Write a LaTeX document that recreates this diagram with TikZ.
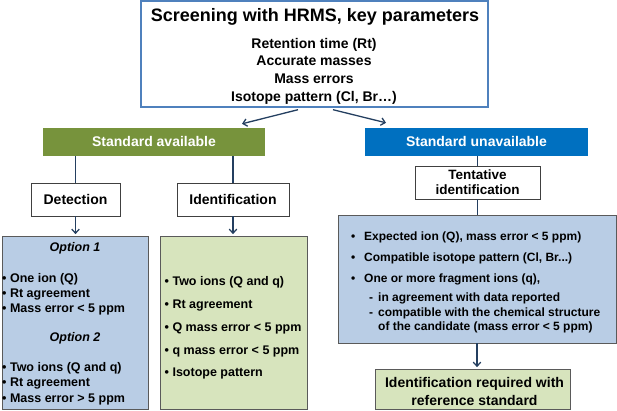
\documentclass[tikz,border=0pt]{standalone}
\usepackage{fontspec}
\setmainfont{Liberation Sans}
\usetikzlibrary{arrows.meta}
\definecolor{cOlive}{HTML}{77933C}
\definecolor{cBlue}{HTML}{0070C0}
\definecolor{cLightBlue}{HTML}{B9CDE5}
\definecolor{cLightGreen}{HTML}{D7E4BD}
\definecolor{cTopBorder}{HTML}{4F81BD}
\definecolor{cLine}{HTML}{243F60}
\definecolor{cGreyBorder}{HTML}{5A5A5A}
\newcommand{\fsz}[1]{\fontsize{#1}{#1}\selectfont\bfseries}
\begin{document}
\begin{tikzpicture}[x=1pt,y=-1pt,
  box/.style={rectangle, inner sep=0pt},
  topbox/.style={box, draw=cTopBorder, line width=1.4pt, fill=white},
  headbox/.style={box, text=white, font=\fsz{14}},
  smallbox/.style={box, draw=black!75, line width=0.8pt, fill=white, font=\fsz{14}},
  listbox/.style={box, draw=cGreyBorder, line width=0.8pt},
  txt/.style={inner sep=0pt, text=black},
  conn/.style={draw=cLine, line width=1.3pt},
  arr/.style={conn, -{Straight Barb[length=4pt,width=7.5pt]}}
]
\useasboundingbox (0,0) rectangle (617,410);

% top box
\node[topbox, minimum width=347pt, minimum height=106pt] (top) at (314.5,54) {};
\node[txt, anchor=base, font=\fsz{18}] (title) at (315,21.6) {Screening with HRMS, key parameters};
\node[txt, anchor=base, font=\fsz{14}] (p1) at (314,48.2) {Retention time (Rt)};
\node[txt, anchor=base, font=\fsz{14}] (p2) at (314,65.9) {Accurate masses};
\node[txt, anchor=base, font=\fsz{14}] (p3) at (314,83.6) {Mass errors};
\node[txt, anchor=base, font=\fsz{14}] (p4) at (314,101.3) {Isotope pattern (Cl, Br…)};

% header boxes
\node[headbox, fill=cOlive, minimum width=222pt, minimum height=28pt] (stdav) at (154,142) {};
\node[txt, anchor=base, text=white, font=\fsz{14}] (stdavt) at (154,146.4) {Standard available};
\node[headbox, fill=cBlue, minimum width=223pt, minimum height=28pt] (stdun) at (476.5,142) {};
\node[txt, anchor=base, text=white, font=\fsz{14}] (stdunt) at (476.5,146.4) {Standard unavailable};

\draw[arr] ([xshift=-16.5pt,yshift=-2pt]top.south) -- ([xshift=88pt,yshift=4pt]stdav.north);
\draw[arr] ([xshift=18.5pt,yshift=-2pt]top.south) -- ([xshift=-90.5pt,yshift=5pt]stdun.north);

% detection / identification
\node[smallbox, minimum width=89pt, minimum height=33pt] (detect) at (75.5,199.5) {};
\node[txt, anchor=base, font=\fsz{14}] (detectt) at (75.5,204) {Detection};
\node[smallbox, minimum width=112pt, minimum height=33pt] (ident) at (233,199.5) {};
\node[txt, anchor=base, font=\fsz{14}] (identt) at (233,204) {Identification};

\draw[conn] (detect.north |- stdav.south) -- (detect.north);
\draw[conn] (ident.north |- stdav.south) -- (ident.north);

% list boxes
\node[listbox, fill=cLightBlue, minimum width=146pt, minimum height=173pt] (detlist) at (75,322.5) {};
\node[listbox, fill=cLightGreen, minimum width=147pt, minimum height=173pt] (idlist) at (233.5,322.5) {};

\draw[arr] (detect.south) -- ([yshift=1.5pt]detect.south |- detlist.north);
\draw[arr] (ident.south) -- ([yshift=1.5pt]ident.south |- idlist.north);

\node[txt, anchor=base, font=\fsz{12.5}\itshape] (opt1) at (75,251) {Option 1};
\node[txt, anchor=base west, font=\fsz{12.5}] (d1) at (2,282.6) {\textbullet\ One ion (Q)};
\node[txt, anchor=base west, font=\fsz{12.5}] (d2) at (2,297.4) {\textbullet\ Rt agreement};
\node[txt, anchor=base west, font=\fsz{12.5}] (d3) at (2,312.4) {\textbullet\ Mass error < 5 ppm};
\node[txt, anchor=base, font=\fsz{12.5}\itshape] (opt2) at (75,341.8) {Option 2};
\node[txt, anchor=base west, font=\fsz{12.5}] (d4) at (2,371.8) {\textbullet\ Two ions (Q and q)};
\node[txt, anchor=base west, font=\fsz{12.5}] (d5) at (2,386.8) {\textbullet\ Rt agreement};
\node[txt, anchor=base west, font=\fsz{12.5}] (d6) at (2,402.6) {\textbullet\ Mass error > 5 ppm};

\node[txt, anchor=base west, font=\fsz{12.5}] (i1) at (164.5,285.8) {\textbullet\ Two ions (Q and q)};
\node[txt, anchor=base west, font=\fsz{12.5}] (i2) at (164.5,308.6) {\textbullet\ Rt agreement};
\node[txt, anchor=base west, font=\fsz{12.5}] (i3) at (164.5,331.4) {\textbullet\ Q mass error < 5 ppm};
\node[txt, anchor=base west, font=\fsz{12.5}] (i4) at (164.5,354.2) {\textbullet\ q mass error < 5 ppm};
\node[txt, anchor=base west, font=\fsz{12.5}] (i5) at (164.5,376.8) {\textbullet\ Isotope pattern};

% right branch
\node[smallbox, minimum width=125pt, minimum height=33pt] (tent) at (477.5,182.5) {};
\node[txt, anchor=base, font=\fsz{13.5}] (tent1) at (477.5,179.3) {Tentative};
\node[txt, anchor=base, font=\fsz{13.5}] (tent2) at (477.5,194.6) {identification};
\draw[conn] (tent.north |- stdun.south) -- (tent.north);

\node[listbox, fill=cLightBlue, minimum width=278pt, minimum height=128pt] (big) at (477,279) {};
\draw[conn] (tent.south) -- (tent.south |- big.north);

\node[txt, anchor=base west, font=\fsz{12}] (b1) at (351,240.8) {\makebox[13pt][l]{\textbullet}Expected ion (Q), mass error < 5 ppm)};
\node[txt, anchor=base west, font=\fsz{12}] (b2) at (351,261.8) {\makebox[13pt][l]{\textbullet}Compatible isotope pattern (Cl, Br...)};
\node[txt, anchor=base west, font=\fsz{12}] (b3) at (351,282.8) {\makebox[13pt][l]{\textbullet}One or more fragment ions (q),};
\node[txt, anchor=base west, font=\fsz{12}] (b4) at (369,301.8) {\makebox[9pt][l]{-}in agreement with data reported};
\node[txt, anchor=base west, font=\fsz{12}] (b5) at (369,316.6) {\makebox[9pt][l]{-}compatible with the chemical structure};
\node[txt, anchor=base west, font=\fsz{12}] (b6) at (378,330.8) {of the candidate (mass error < 5 ppm)};

\node[box, draw=cGreyBorder, line width=0.8pt, fill=cLightGreen, minimum width=195pt, minimum height=40pt] (final) at (472.5,389) {};
\node[txt, anchor=base, font=\fsz{14}] (f1) at (474.5,387.4) {Identification required with};
\node[txt, anchor=base, font=\fsz{14}] (f2) at (474.5,405.2) {reference standard};
\draw[arr] (big.south) -- ([yshift=1.5pt]big.south |- final.north);
\end{tikzpicture}
\end{document}
